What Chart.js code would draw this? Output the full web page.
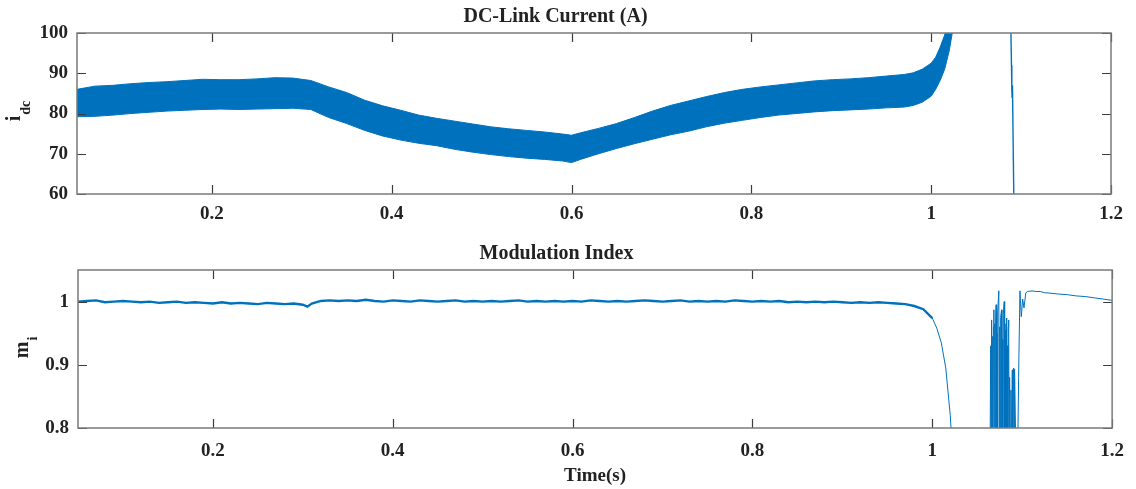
<!DOCTYPE html>
<html>
<head>
<meta charset="utf-8">
<script src="https://cdn.jsdelivr.net/npm/chart.js@4.4.1/dist/chart.umd.min.js"></script>
<style>
  body { margin: 0; background: #fff; }
  #wrap { position: relative; width: 1136px; height: 489px; }
  canvas { position: absolute; left: 0; }
  #idcChart { top: 0; }
  #miChart { top: 230px; }
</style>
</head>
<body>
<div id="wrap">
  <canvas id="idcChart" width="1136" height="230"></canvas>
  <canvas id="miChart" width="1136" height="259"></canvas>
</div>
<script>
const timeTicks = [0.2, 0.4, 0.6, 0.8, 1, 1.2];
const idcTicks = [60, 70, 80, 90, 100];
const miTicks = [0.8, 0.9, 1];

// dc-link current: ripple band read as upper / lower envelope
const idcTime = [0.05, 0.07, 0.09, 0.11, 0.13, 0.15, 0.17, 0.19, 0.21, 0.23, 0.25, 0.27, 0.29, 0.31,
    0.33, 0.35, 0.37, 0.39, 0.41, 0.43, 0.45, 0.47, 0.49, 0.51, 0.53, 0.55, 0.57, 0.59, 0.60, 0.61,
    0.63, 0.65, 0.67, 0.69, 0.71, 0.73, 0.75, 0.77, 0.79, 0.81, 0.83, 0.85, 0.87, 0.89, 0.91, 0.93,
    0.95, 0.97, 0.98, 0.99, 1.00, 1.005, 1.01, 1.015, 1.02, 1.025];
const idcUpper = [86.0, 86.8, 87.0, 87.4, 87.7, 87.9, 88.2, 88.5, 88.4, 88.4, 88.6, 88.9, 88.8, 88.2,
    86.6, 85.2, 83.3, 81.9, 80.8, 79.6, 78.8, 78.1, 77.4, 76.7, 76.2, 75.8, 75.4, 74.9, 74.6, 75.2,
    76.3, 77.5, 79.0, 80.6, 82.0, 83.1, 84.2, 85.2, 86.0, 86.6, 87.1, 87.6, 88.1, 88.4, 88.6, 88.9,
    89.3, 89.7, 90.1, 91.0, 92.5, 94.0, 96.5, 99.5, 104, 112];
const idcLower = [79.2, 79.3, 79.6, 80.0, 80.3, 80.6, 80.8, 81.0, 81.1, 81.0, 81.1, 81.2, 81.3, 81.0,
    79.0, 77.5, 75.8, 74.4, 73.4, 72.6, 72.0, 71.1, 70.4, 69.8, 69.3, 68.9, 68.6, 68.2, 67.8, 68.6,
    70.0, 71.3, 72.5, 73.6, 74.7, 75.6, 76.7, 77.6, 78.3, 79.0, 79.6, 80.0, 80.4, 80.7, 80.9, 81.1,
    81.4, 81.6, 82.0, 82.8, 84.3, 86.0, 88.2, 91.0, 95.5, 102];
const idcTripTime = [1.0880, 1.0887, 1.0893, 1.0897, 1.0900, 1.0904, 1.0935];
const idcTripValue = [130, 100, 92, 86, 84, 87, 30];

// modulation index
const miTime = [0.05, 0.06, 0.07, 0.08, 0.09, 0.10, 0.11, 0.12, 0.13, 0.14, 0.15, 0.16, 0.17, 0.18,
    0.19, 0.20, 0.21, 0.22, 0.23, 0.24, 0.25, 0.26, 0.27, 0.28, 0.29, 0.30, 0.305, 0.31, 0.32, 0.33,
    0.34, 0.35, 0.36, 0.37, 0.38, 0.39, 0.40, 0.41, 0.42, 0.43, 0.44, 0.45, 0.46, 0.47, 0.48, 0.49,
    0.50, 0.51, 0.52, 0.53, 0.54, 0.55, 0.56, 0.57, 0.58, 0.59, 0.60, 0.61, 0.62, 0.63, 0.64, 0.65,
    0.66, 0.67, 0.68, 0.69, 0.70, 0.71, 0.72, 0.73, 0.74, 0.75, 0.76, 0.77, 0.78, 0.79, 0.80, 0.81,
    0.82, 0.83, 0.84, 0.85, 0.86, 0.87, 0.88, 0.89, 0.90, 0.91, 0.92, 0.93, 0.94, 0.95, 0.96, 0.97,
    0.98, 0.99, 1.00];
const miValue = [1.000, 1.001, 1.002, 0.999, 1.000, 1.001, 1.000, 0.999, 1.000, 0.998, 0.999, 1.000,
    0.998, 0.999, 0.998, 0.997, 0.999, 0.997, 0.998, 0.997, 0.996, 0.998, 0.997, 0.996, 0.997, 0.995,
    0.992, 0.997, 1.001, 1.002, 1.001, 1.002, 1.001, 1.003, 1.001, 1.000, 1.002, 1.001, 1.000, 1.002,
    1.001, 1.000, 1.001, 1.002, 1.000, 1.001, 1.000, 1.001, 1.000, 1.001, 1.002, 1.000, 1.001, 1.000,
    1.001, 1.000, 1.001, 1.000, 1.002, 1.001, 1.000, 1.001, 1.000, 1.001, 1.002, 1.001, 1.000, 1.001,
    1.002, 1.000, 1.001, 1.000, 1.001, 1.000, 1.002, 1.001, 1.000, 1.001, 1.000, 1.001, 0.999, 1.000,
    0.999, 1.000, 0.999, 1.000, 0.999, 0.998, 0.999, 0.998, 0.999, 0.998, 0.997, 0.996, 0.993, 0.988,
    0.974];
const miTransTime = [1.000, 1.005, 1.010, 1.015, 1.020, 1.025,
    1.0640, 1.0650, 1.0655, 1.0660, 1.0665, 1.0670, 1.0675, 1.0680, 1.0685, 1.0690, 1.0695, 1.0700,
    1.0705, 1.0710, 1.0715, 1.0720, 1.0725, 1.0730, 1.0740, 1.0745, 1.0750, 1.0755, 1.0760, 1.0770,
    1.0775, 1.0780, 1.0785, 1.0790, 1.0800, 1.0805, 1.0810, 1.0815, 1.0820, 1.0825, 1.0830, 1.0835,
    1.0840, 1.0845, 1.0850, 1.0855, 1.0860, 1.0865, 1.0875, 1.0880, 1.0890, 1.0895, 1.0900, 1.0905,
    1.0910, 1.0915, 1.0930, 1.0945, 1.0960, 1.0975, 1.0990, 1.1005, 1.1020, 1.1040,
    1.106, 1.111, 1.115, 1.12, 1.125, 1.13, 1.14, 1.15, 1.16, 1.17, 1.18, 1.19, 1.20];
const miTransValue = [0.974, 0.958, 0.935, 0.895, 0.820, 0.700,
    0.700, 0.930, 0.700, 0.971, 0.700, 0.945, 0.720, 0.960, 0.987, 0.700, 0.965, 0.720,
    0.975, 0.995, 0.700, 0.950, 0.720, 0.985, 1.017, 0.700, 0.960, 0.720, 0.975, 0.987,
    0.700, 0.940, 0.720, 0.980, 1.000, 0.700, 0.955, 0.720, 0.965, 0.974, 0.700, 0.930,
    0.720, 0.960, 0.971, 0.700, 0.880, 0.720, 0.860, 0.750, 0.892, 0.720, 0.880, 0.895,
    0.760, 0.893, 0.760, 0.700, 0.880, 1.017, 0.976, 1.004, 0.990, 1.014,
    1.016, 1.017, 1.016, 1.016, 1.014, 1.0135, 1.012, 1.011, 1.009, 1.008, 1.006, 1.004, 1.002];

const blue = "#0072BD";
const serif = '"Liberation Serif", "Times New Roman", serif';
const pts = (xs, ys) => xs.map((x, i) => ({ x: x, y: ys[i] }));

// matlab style box, inward ticks on all sides, subscripted y label
const axesBox = {
    id: "axesBox",
    afterDraw(chart, args, opts) {
        const { ctx, chartArea: a, scales } = chart;
        ctx.save();
        ctx.strokeStyle = "#3c3c3c";
        ctx.lineWidth = 1.2;
        ctx.beginPath();
        scales.x.ticks.forEach(t => {
            const px = Math.round(scales.x.getPixelForValue(t.value)) + 0.5;
            ctx.moveTo(px, a.bottom); ctx.lineTo(px, a.bottom - 9);
            ctx.moveTo(px, a.top); ctx.lineTo(px, a.top + 9);
        });
        scales.y.ticks.forEach(t => {
            const py = Math.round(scales.y.getPixelForValue(t.value)) + 0.5;
            ctx.moveTo(a.left, py); ctx.lineTo(a.left + 9, py);
            ctx.moveTo(a.right, py); ctx.lineTo(a.right - 9, py);
        });
        ctx.stroke();
        ctx.strokeStyle = "#7a7a7a";
        ctx.lineWidth = 1.5;
        ctx.strokeRect(a.left, a.top, a.right - a.left, a.bottom - a.top);

        ctx.fillStyle = "#222";
        ctx.translate(opts.baseX, (a.top + a.bottom) / 2 + opts.dy);
        ctx.rotate(-Math.PI / 2);
        ctx.font = "bold 20px " + serif;
        const mw = ctx.measureText(opts.main).width;
        ctx.font = "bold 14px " + serif;
        const sw = ctx.measureText(opts.sub).width;
        const x0 = -(mw + sw) / 2;
        ctx.font = "bold 20px " + serif;
        ctx.fillText(opts.main, x0, 0);
        ctx.font = "bold 14px " + serif;
        ctx.fillText(opts.sub, x0 + mw + 1, opts.subDrop);
        ctx.restore();
    }
};

function xScale(height, pad, withTitle) {
    return {
        type: "linear",
        min: 0.05,
        max: 1.2,
        grid: { display: false, drawTicks: false },
        border: { display: false },
        afterBuildTicks: s => { s.ticks = timeTicks.map(v => ({ value: v })); },
        afterFit: s => { s.height = height; },
        ticks: {
            autoSkip: false, maxRotation: 0, padding: pad, color: "#222",
            font: { family: serif, size: 19, weight: "bold" },
            callback: v => String(v)
        },
        title: {
            display: withTitle, text: "Time(s)", color: "#222",
            font: { family: serif, size: 19, weight: "bold" },
            padding: { top: 0, bottom: 2 }
        }
    };
}

function yScale(min, max, tickList, width) {
    return {
        min: min,
        max: max,
        grid: { display: false, drawTicks: false },
        border: { display: false },
        afterBuildTicks: s => { s.ticks = tickList.map(v => ({ value: v })); },
        afterFit: s => { s.width = width; },
        ticks: {
            padding: 9, color: "#222",
            font: { family: serif, size: 19, weight: "bold" },
            callback: v => String(v)
        }
    };
}

function titleOpts(text, top) {
    return {
        display: true, text: text, color: "#222",
        font: { family: serif, size: 20, weight: "bold" },
        padding: { top: top, bottom: 4 }
    };
}

new Chart(document.getElementById("idcChart"), {
    type: "line",
    plugins: [axesBox],
    data: {
        datasets: [
            { data: pts(idcTime, idcLower), borderColor: blue, borderWidth: 1, pointRadius: 0, fill: false },
            { data: pts(idcTime, idcUpper), borderColor: blue, backgroundColor: blue, borderWidth: 1, pointRadius: 0, fill: "-1" },
            { data: pts(idcTripTime, idcTripValue), borderColor: blue, borderWidth: 1.4, pointRadius: 0, fill: false }
        ]
    },
    options: {
        responsive: false,
        animation: false,
        layout: { padding: { left: 0, right: 25, top: 0, bottom: 0 } },
        scales: { x: xScale(36, 9, false), y: yScale(60, 100, idcTicks, 77) },
        plugins: {
            legend: { display: false },
            tooltip: { enabled: false },
            title: titleOpts("DC-Link Current (A)", 5),
            axesBox: { main: "i", sub: "dc", baseX: 20, subDrop: 10, dy: -2 }
        }
    }
});

new Chart(document.getElementById("miChart"), {
    type: "line",
    plugins: [axesBox],
    data: {
        datasets: [
            { data: pts(miTime, miValue), borderColor: blue, borderWidth: 2.4, pointRadius: 0, fill: false },
            { data: pts(miTransTime, miTransValue), borderColor: blue, borderWidth: 1, pointRadius: 0, fill: false }
        ]
    },
    options: {
        responsive: false,
        animation: false,
        layout: { padding: { left: 0, right: 23, top: 0, bottom: 0 } },
        scales: { x: xScale(61, 12, true), y: yScale(0.8, 1.05, miTicks, 78) },
        plugins: {
            legend: { display: false },
            tooltip: { enabled: false },
            title: titleOpts("Modulation Index", 12),
            axesBox: { main: "m", sub: "i", baseX: 28, subDrop: 9, dy: -1 }
        }
    }
});
</script>
</body>
</html>
